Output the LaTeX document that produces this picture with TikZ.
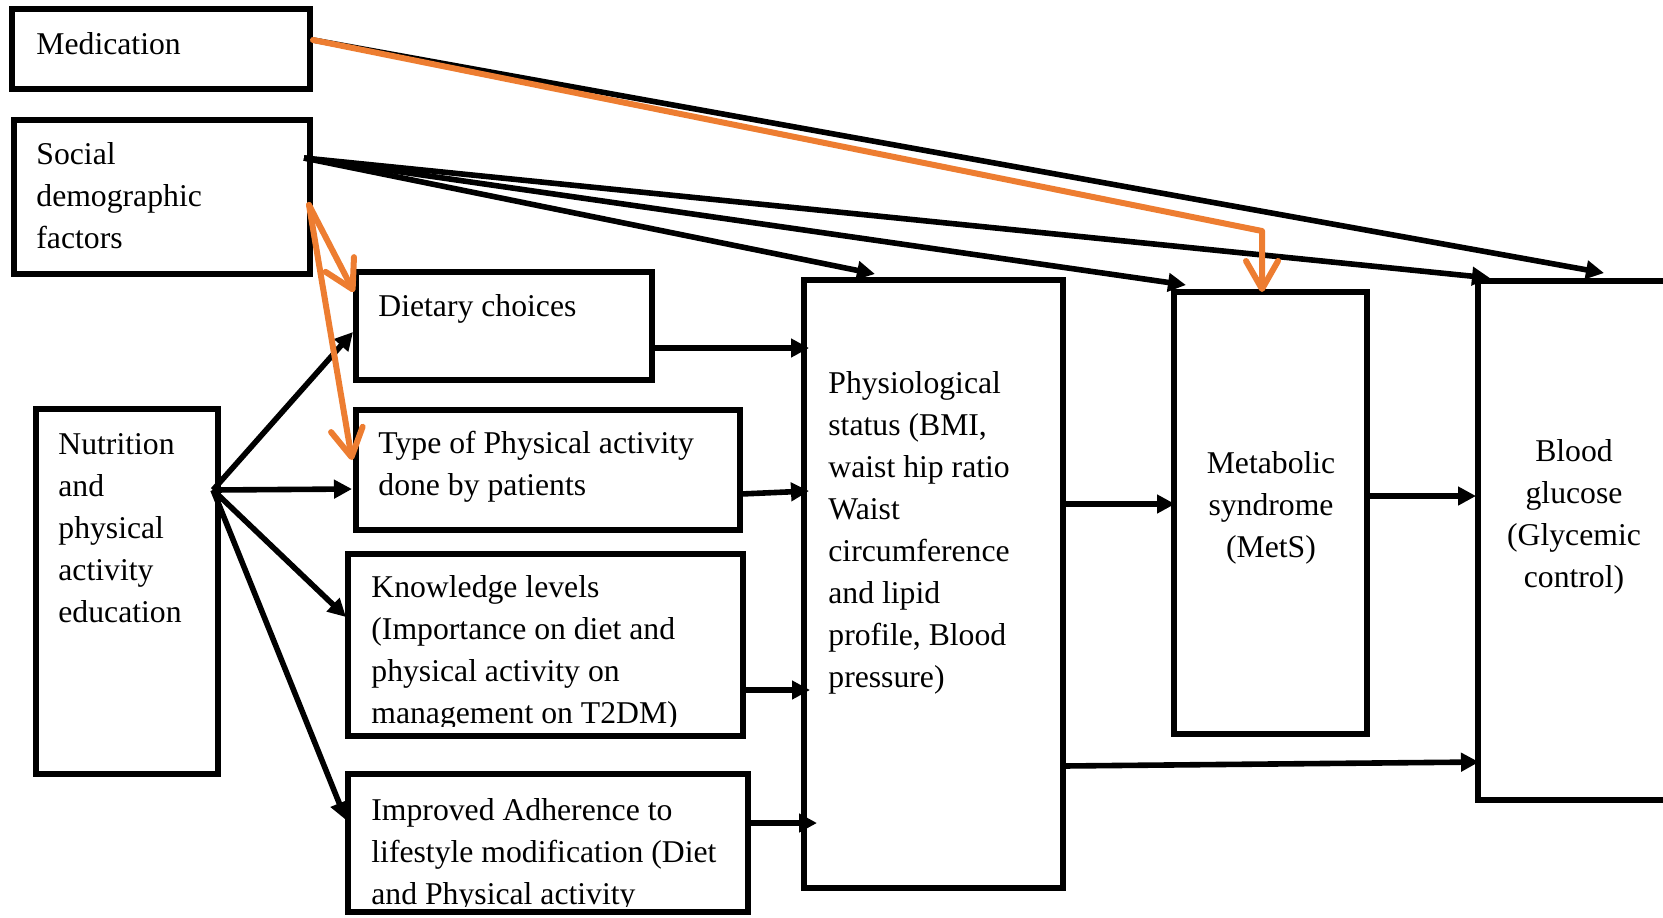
\documentclass[tikz,border=0pt]{standalone}
\usepackage{fontspec}
\setmainfont{Liberation Serif}
\usetikzlibrary{arrows.meta,fit}
\definecolor{accent}{RGB}{237,125,49}
\begin{document}
\begin{tikzpicture}[x=0.5pt,y=-0.5pt,
  box/.style={draw=black, line width=3.2pt, inner sep=0pt, outer sep=0pt},
  txt/.style={inner sep=0pt, anchor=base west, font=\fontsize{15.85}{21}\selectfont},
  ctxt/.style={inner sep=0pt, anchor=base, font=\fontsize{15.85}{21}\selectfont},
  link/.style={draw=black, line width=2.8pt, -{Triangle[length=9pt,width=9pt]}},
  olink/.style={draw=accent, line width=3pt, line cap=round, line join=round,
    -{Straight Barb[length=14pt,width=16pt,round]}}]
\useasboundingbox (0,0) rectangle (1663,917);
\clip (0,0) rectangle (1663,917);

% boxes
\node[box, fit={(12,9) (310,89)}] (med) {};
\node[box, fit={(14,120) (310,274)}] (soc) {};
\node[box, fit={(356,272) (652,380)}] (diet) {};
\node[box, fit={(356,410) (740,530)}] (type) {};
\node[box, fit={(348,554) (743,736)}] (know) {};
\node[box, fit={(348,774) (748,912)}] (impr) {};
\node[box, fit={(36,409) (218,774)}] (nut) {};
\node[box, fit={(804,280) (1063,888)}] (phy) {};
\node[box, fit={(1174,292) (1367,734)}] (met) {};
\node[box, fit={(1478,281) (1720,800)}] (bgl) {};

% box texts
\node[txt] (medT) at (36,54) {Medication};
\node[txt] (socT) at (36,164) {\begin{tabular}[t]{@{}l@{}}Social\\demographic\\factors\end{tabular}};
\node[txt] (dietT) at (378,316) {Dietary choices};
\node[txt] (typeT) at (378,453) {\begin{tabular}[t]{@{}l@{}}Type of Physical activity\\done by patients\end{tabular}};
\begin{scope}
  \clip (know.north west) rectangle ([shift={(0,-10)}]know.south east);
  \node[txt] (knowT) at (371,597) {\begin{tabular}[t]{@{}l@{}}Knowledge levels\\(Importance on diet and\\physical activity on\\management on T2DM)\end{tabular}};
\end{scope}
\begin{scope}
  \clip (impr.north west) rectangle ([shift={(0,-6)}]impr.south east);
  \node[txt] (imprT) at (371,820) {\begin{tabular}[t]{@{}l@{}}Improved Adherence to\\lifestyle modification (Diet\\and Physical activity\end{tabular}};
\end{scope}
\node[txt] (nutT) at (58,454) {\begin{tabular}[t]{@{}l@{}}Nutrition\\and\\physical\\activity\\education\end{tabular}};
\node[txt] (phyT) at (828,393) {\begin{tabular}[t]{@{}l@{}}Physiological\\status (BMI,\\waist hip ratio\\Waist\\circumference\\and lipid\\profile, Blood\\pressure)\end{tabular}};
\node[ctxt] (metT) at (1271,473) {\begin{tabular}[t]{@{}c@{}}Metabolic\\syndrome\\(MetS)\end{tabular}};
\node[ctxt] (bglT) at (1574,461) {\begin{tabular}[t]{@{}c@{}}Blood\\glucose\\(Glycemic\\control)\end{tabular}};

% black connectors
\draw[link] ([shift={(3,-9)}]med.east) -- ([shift={(126,-8)}]bgl.north west);
\draw[link] ([shift={(-6,38)}]soc.north east) -- ([shift={(71,-6)}]phy.north west);
\draw[link] ([shift={(-6,38)}]soc.north east) -- ([shift={(12,-7)}]met.north west);
\draw[link] ([shift={(-6,38)}]soc.north east) -- ([shift={(12,-3)}]bgl.north west);

\draw[link] ([shift={(-5,81)}]nut.north east) -- ([shift={(-3,60)}]diet.north west);
\draw[link] ([shift={(-5,81)}]nut.north east) -- ([shift={(-4,79)}]type.north west);
\draw[link] ([shift={(-5,81)}]nut.north east) -- ([shift={(-2,63)}]know.north west);
\draw[link] ([shift={(-5,81)}]nut.north east) -- ([shift={(-2,46)}]impr.north west);

\draw[link] ([shift={(0,76)}]diet.north east) -- ([shift={(5,68)}]phy.north west);
\draw[link] ([shift={(1,84)}]type.north east) -- ([shift={(5,211)}]phy.north west);
\draw[link] ([shift={(2,136)}]know.north east) -- ([shift={(6,410)}]phy.north west);
\draw[link] ([shift={(2,49)}]impr.north east) -- ([shift={(13,543)}]phy.north west);

\draw[link] ([shift={(0,224)}]phy.north east) -- ([shift={(1,212)}]met.north west);
\draw[link] ([shift={(3,204)}]met.north east) -- ([shift={(-2,215)}]bgl.north west);
\draw[link] ([shift={(0,486)}]phy.north east) -- ([shift={(1,481)}]bgl.north west);

% orange connectors
\draw[olink] ([shift={(3,-9)}]med.east) -- ([shift={(88,-61)}]met.north west) -- ([shift={(88,0)}]met.north west);
\draw[olink] ([shift={(-1,85)}]soc.north east) -- ([shift={(-2,20)}]diet.north west);
\draw[olink] ([shift={(-1,85)}]soc.north east) -- ([shift={(-4,50)}]type.north west);
\end{tikzpicture}
\end{document}
